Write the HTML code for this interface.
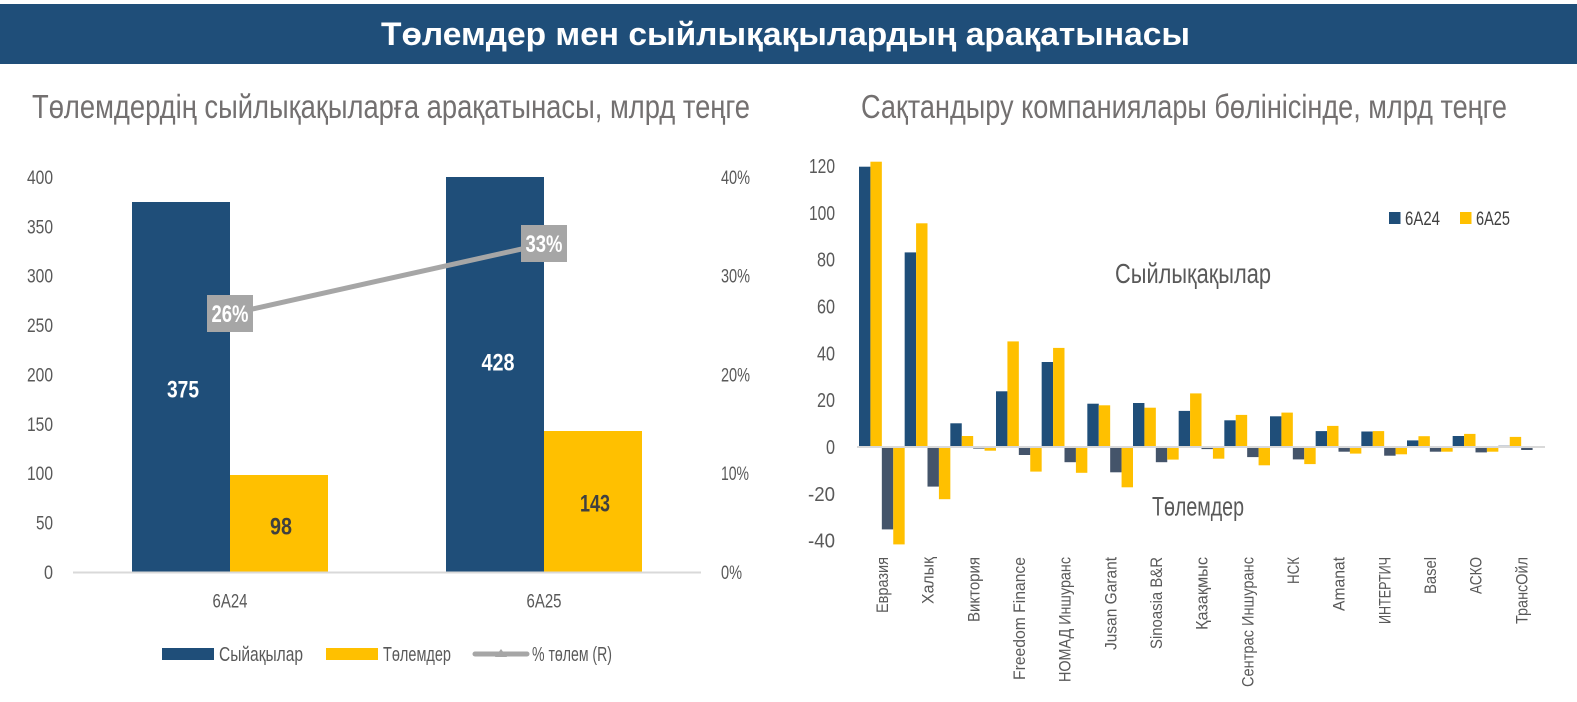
<!DOCTYPE html>
<html><head><meta charset="utf-8"><style>
html,body{margin:0;padding:0;background:#fff;}
svg{display:block;}
text{font-family:"Liberation Sans Narrow","Liberation Sans","Noto Sans CJK SC",sans-serif;}
</style></head><body>
<svg width="1577" height="702" viewBox="0 0 1577 702" xmlns="http://www.w3.org/2000/svg">
<rect x="0" y="0" width="1577" height="702" fill="#fff"/>
<!-- Banner -->
<rect x="0" y="4" width="1577" height="60" fill="#1f4e79"/>
<text x="785.5" y="45" font-size="32" font-weight="bold" fill="#fff" text-anchor="middle" textLength="809" lengthAdjust="spacingAndGlyphs">Төлемдер мен сыйлықақылардың арақатынасы</text>
<!-- Subtitles -->
<text x="32" y="118" font-size="33" fill="#737070" textLength="718" lengthAdjust="spacingAndGlyphs">Төлемдердің сыйлықақыларға арақатынасы, млрд теңге</text>
<text x="861" y="118" font-size="33" fill="#737070" textLength="646" lengthAdjust="spacingAndGlyphs">Сақтандыру компаниялары бөлінісінде, млрд теңге</text>

<!-- LEFT CHART -->
<g font-size="19.5" fill="#595959" text-anchor="end">
<text x="53" y="579" textLength="9" lengthAdjust="spacingAndGlyphs">0</text>
<text x="53" y="529.5" textLength="17" lengthAdjust="spacingAndGlyphs">50</text>
<text x="53" y="480" textLength="26" lengthAdjust="spacingAndGlyphs">100</text>
<text x="53" y="431" textLength="26" lengthAdjust="spacingAndGlyphs">150</text>
<text x="53" y="381.5" textLength="26" lengthAdjust="spacingAndGlyphs">200</text>
<text x="53" y="332" textLength="26" lengthAdjust="spacingAndGlyphs">250</text>
<text x="53" y="282.5" textLength="26" lengthAdjust="spacingAndGlyphs">300</text>
<text x="53" y="233.5" textLength="26" lengthAdjust="spacingAndGlyphs">350</text>
<text x="53" y="184" textLength="26" lengthAdjust="spacingAndGlyphs">400</text>
</g>
<g font-size="19.5" fill="#595959">
<text x="721" y="579" textLength="21" lengthAdjust="spacingAndGlyphs">0%</text>
<text x="721" y="480" textLength="28" lengthAdjust="spacingAndGlyphs">10%</text>
<text x="721" y="381.5" textLength="29" lengthAdjust="spacingAndGlyphs">20%</text>
<text x="721" y="282.5" textLength="29" lengthAdjust="spacingAndGlyphs">30%</text>
<text x="721" y="184" textLength="29" lengthAdjust="spacingAndGlyphs">40%</text>
</g>
<rect x="132" y="202" width="98" height="370" fill="#1f4e79"/>
<rect x="230" y="475" width="98" height="97" fill="#ffc000"/>
<rect x="446" y="177" width="98" height="395" fill="#1f4e79"/>
<rect x="544" y="431" width="98" height="141" fill="#ffc000"/>
<line x1="73" y1="572.5" x2="701" y2="572.5" stroke="#d9d9d9" stroke-width="2"/>
<line x1="230" y1="314" x2="544" y2="244" stroke="#a6a6a6" stroke-width="5"/>
<rect x="207" y="295" width="46" height="37" fill="#a6a6a6"/>
<rect x="521" y="225" width="46" height="37" fill="#a6a6a6"/>
<g font-size="24" font-weight="bold" text-anchor="middle">
<text x="230" y="322" fill="#fff" textLength="37" lengthAdjust="spacingAndGlyphs">26%</text>
<text x="544" y="252" fill="#fff" textLength="37" lengthAdjust="spacingAndGlyphs">33%</text>
<text x="183" y="397.5" fill="#fff" textLength="32" lengthAdjust="spacingAndGlyphs">375</text>
<text x="498" y="370.5" fill="#fff" textLength="33" lengthAdjust="spacingAndGlyphs">428</text>
<text x="281" y="534.5" fill="#404040" textLength="22" lengthAdjust="spacingAndGlyphs">98</text>
<text x="595" y="511.5" fill="#404040" textLength="30" lengthAdjust="spacingAndGlyphs">143</text>
</g>
<g font-size="19" fill="#595959" text-anchor="middle">
<text x="230" y="607.5" textLength="35" lengthAdjust="spacingAndGlyphs">6A24</text>
<text x="544" y="607.5" textLength="35" lengthAdjust="spacingAndGlyphs">6A25</text>
</g>
<!-- left legend -->
<rect x="162" y="648" width="52" height="12" fill="#1f4e79"/>
<text x="219" y="661" font-size="20" fill="#595959" textLength="84" lengthAdjust="spacingAndGlyphs">Сыйақылар</text>
<rect x="326" y="648" width="52" height="12" fill="#ffc000"/>
<text x="383" y="661" font-size="20" fill="#595959" textLength="68" lengthAdjust="spacingAndGlyphs">Төлемдер</text>
<line x1="475" y1="654" x2="527" y2="654" stroke="#a6a6a6" stroke-width="5" stroke-linecap="round"/>
<polygon points="495,657 501,649 507,657" fill="#a6a6a6"/>
<text x="532" y="661" font-size="20" fill="#595959" textLength="80" lengthAdjust="spacingAndGlyphs">% төлем (R)</text>

<!-- RIGHT CHART -->
<g font-size="20" fill="#595959" text-anchor="end">
<text x="835" y="173" textLength="26" lengthAdjust="spacingAndGlyphs">120</text>
<text x="835" y="219.8" textLength="26" lengthAdjust="spacingAndGlyphs">100</text>
<text x="835" y="266.6" textLength="18" lengthAdjust="spacingAndGlyphs">80</text>
<text x="835" y="313.5" textLength="18" lengthAdjust="spacingAndGlyphs">60</text>
<text x="835" y="360.3" textLength="18" lengthAdjust="spacingAndGlyphs">40</text>
<text x="835" y="407.2" textLength="18" lengthAdjust="spacingAndGlyphs">20</text>
<text x="835" y="454" textLength="9" lengthAdjust="spacingAndGlyphs">0</text>
<text x="835" y="500.8" textLength="27" lengthAdjust="spacingAndGlyphs">-20</text>
<text x="835" y="547.7" textLength="27" lengthAdjust="spacingAndGlyphs">-40</text>
</g>
<g>
<rect x="859" y="166.7" width="11.42" height="280.3" fill="#1f4e79"/>
<rect x="870.42" y="161.7" width="11.42" height="285.3" fill="#ffc000"/>
<rect x="881.83" y="447" width="11.42" height="82.4" fill="#44546a"/>
<rect x="893.25" y="447" width="11.42" height="97.4" fill="#ffc000"/>
<rect x="904.67" y="252.4" width="11.42" height="194.6" fill="#1f4e79"/>
<rect x="916.08" y="223.3" width="11.42" height="223.7" fill="#ffc000"/>
<rect x="927.5" y="447" width="11.42" height="39.6" fill="#44546a"/>
<rect x="938.92" y="447" width="11.42" height="52.2" fill="#ffc000"/>
<rect x="950.33" y="423.3" width="11.42" height="23.7" fill="#1f4e79"/>
<rect x="961.75" y="436" width="11.42" height="11" fill="#ffc000"/>
<rect x="973.17" y="447" width="11.42" height="1.6" fill="#44546a"/>
<rect x="984.58" y="447" width="11.42" height="3.7" fill="#ffc000"/>
<rect x="996" y="391.3" width="11.42" height="55.7" fill="#1f4e79"/>
<rect x="1007.42" y="341.4" width="11.42" height="105.6" fill="#ffc000"/>
<rect x="1018.83" y="447" width="11.42" height="8" fill="#44546a"/>
<rect x="1030.25" y="447" width="11.42" height="24.6" fill="#ffc000"/>
<rect x="1041.67" y="362" width="11.42" height="85" fill="#1f4e79"/>
<rect x="1053.08" y="347.9" width="11.42" height="99.1" fill="#ffc000"/>
<rect x="1064.5" y="447" width="11.42" height="15.2" fill="#44546a"/>
<rect x="1075.92" y="447" width="11.42" height="25.8" fill="#ffc000"/>
<rect x="1087.33" y="403.7" width="11.42" height="43.3" fill="#1f4e79"/>
<rect x="1098.75" y="405.3" width="11.42" height="41.7" fill="#ffc000"/>
<rect x="1110.17" y="447" width="11.42" height="25.3" fill="#44546a"/>
<rect x="1121.58" y="447" width="11.42" height="40.3" fill="#ffc000"/>
<rect x="1133" y="403" width="11.42" height="44" fill="#1f4e79"/>
<rect x="1144.42" y="407.7" width="11.42" height="39.3" fill="#ffc000"/>
<rect x="1155.83" y="447" width="11.42" height="15.2" fill="#44546a"/>
<rect x="1167.25" y="447" width="11.42" height="12.6" fill="#ffc000"/>
<rect x="1178.67" y="410.9" width="11.42" height="36.1" fill="#1f4e79"/>
<rect x="1190.08" y="393.4" width="11.42" height="53.6" fill="#ffc000"/>
<rect x="1201.5" y="447" width="11.42" height="2.1" fill="#44546a"/>
<rect x="1212.92" y="447" width="11.42" height="11.7" fill="#ffc000"/>
<rect x="1224.33" y="420.3" width="11.42" height="26.7" fill="#1f4e79"/>
<rect x="1235.75" y="414.9" width="11.42" height="32.1" fill="#ffc000"/>
<rect x="1247.17" y="447" width="11.42" height="10.1" fill="#44546a"/>
<rect x="1258.58" y="447" width="11.42" height="18.3" fill="#ffc000"/>
<rect x="1270" y="416.3" width="11.42" height="30.7" fill="#1f4e79"/>
<rect x="1281.42" y="412.6" width="11.42" height="34.4" fill="#ffc000"/>
<rect x="1292.83" y="447" width="11.42" height="12.4" fill="#44546a"/>
<rect x="1304.25" y="447" width="11.42" height="17.1" fill="#ffc000"/>
<rect x="1315.67" y="431.1" width="11.42" height="15.9" fill="#1f4e79"/>
<rect x="1327.08" y="425.9" width="11.42" height="21.1" fill="#ffc000"/>
<rect x="1338.5" y="447" width="11.42" height="4.7" fill="#44546a"/>
<rect x="1349.92" y="447" width="11.42" height="6.6" fill="#ffc000"/>
<rect x="1361.33" y="431.5" width="11.42" height="15.5" fill="#1f4e79"/>
<rect x="1372.75" y="431.1" width="11.42" height="15.9" fill="#ffc000"/>
<rect x="1384.17" y="447" width="11.42" height="8.7" fill="#44546a"/>
<rect x="1395.58" y="447" width="11.42" height="7.3" fill="#ffc000"/>
<rect x="1407" y="440.4" width="11.42" height="6.6" fill="#1f4e79"/>
<rect x="1418.42" y="436.2" width="11.42" height="10.8" fill="#ffc000"/>
<rect x="1429.83" y="447" width="11.42" height="4.7" fill="#44546a"/>
<rect x="1441.25" y="447" width="11.42" height="4.7" fill="#ffc000"/>
<rect x="1452.67" y="436" width="11.42" height="11" fill="#1f4e79"/>
<rect x="1464.08" y="433.9" width="11.42" height="13.1" fill="#ffc000"/>
<rect x="1475.5" y="447" width="11.42" height="5.4" fill="#44546a"/>
<rect x="1486.92" y="447" width="11.42" height="4.7" fill="#ffc000"/>
<rect x="1498.33" y="445.6" width="11.42" height="1.4" fill="#7f8fa6"/>
<rect x="1509.75" y="436.9" width="11.42" height="10.1" fill="#ffc000"/>
<rect x="1521.17" y="447" width="11.42" height="3" fill="#44546a"/>
</g>
<line x1="857" y1="447" x2="1545" y2="447" stroke="#d9d9d9" stroke-width="2"/>

<!-- right legend -->
<rect x="1389" y="212" width="11.5" height="12" fill="#1f4e79"/>
<text x="1405" y="225" font-size="19" fill="#404040" textLength="35" lengthAdjust="spacingAndGlyphs">6A24</text>
<rect x="1460" y="212" width="11.5" height="12" fill="#ffc000"/>
<text x="1476" y="225" font-size="19" fill="#404040" textLength="34" lengthAdjust="spacingAndGlyphs">6A25</text>

<!-- annotations -->
<text x="1115" y="283" font-size="28" fill="#595959" textLength="156" lengthAdjust="spacingAndGlyphs">Сыйлықақылар</text>
<text x="1152" y="515.5" font-size="27" fill="#595959" textLength="92" lengthAdjust="spacingAndGlyphs">Төлемдер</text>

<!-- x labels rotated -->
<g font-size="17" fill="#595959" text-anchor="end">
<text transform="translate(888,557) rotate(-90)" textLength="56" lengthAdjust="spacingAndGlyphs">Евразия</text>
<text transform="translate(933.7,557) rotate(-90)" textLength="47" lengthAdjust="spacingAndGlyphs">Халық</text>
<text transform="translate(979.3,557) rotate(-90)" textLength="65" lengthAdjust="spacingAndGlyphs">Виктория</text>
<text transform="translate(1025,557) rotate(-90)" textLength="123" lengthAdjust="spacingAndGlyphs">Freedom Finance</text>
<text transform="translate(1070.7,557) rotate(-90)" textLength="125" lengthAdjust="spacingAndGlyphs">НОМАД Иншуранс</text>
<text transform="translate(1116.3,557) rotate(-90)" textLength="93" lengthAdjust="spacingAndGlyphs">Jusan Garant</text>
<text transform="translate(1162,557) rotate(-90)" textLength="92" lengthAdjust="spacingAndGlyphs">Sinoasia B&amp;R</text>
<text transform="translate(1207.7,557) rotate(-90)" textLength="73" lengthAdjust="spacingAndGlyphs">Қазақмыс</text>
<text transform="translate(1253.3,557) rotate(-90)" textLength="130" lengthAdjust="spacingAndGlyphs">Сентрас Иншуранс</text>
<text transform="translate(1299,557) rotate(-90)" textLength="27" lengthAdjust="spacingAndGlyphs">НСК</text>
<text transform="translate(1344.7,557) rotate(-90)" textLength="54" lengthAdjust="spacingAndGlyphs">Amanat</text>
<text transform="translate(1390.3,557) rotate(-90)" textLength="67" lengthAdjust="spacingAndGlyphs">ИНТЕРТИЧ</text>
<text transform="translate(1436,557) rotate(-90)" textLength="37" lengthAdjust="spacingAndGlyphs">Basel</text>
<text transform="translate(1481.7,557) rotate(-90)" textLength="37" lengthAdjust="spacingAndGlyphs">АСКО</text>
<text transform="translate(1527.3,557) rotate(-90)" textLength="67" lengthAdjust="spacingAndGlyphs">ТрансОйл</text>
</g>
</svg>
</body></html>
